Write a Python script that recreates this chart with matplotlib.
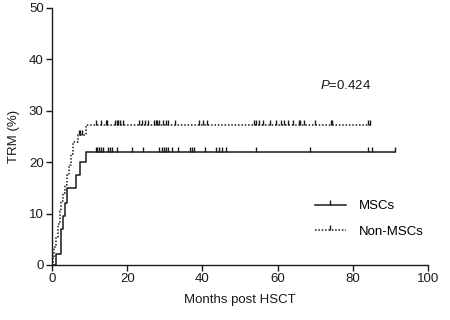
import numpy as np
import matplotlib
matplotlib.use("Agg")
import matplotlib.pyplot as plt

# cumulative TRM (%) step points
msc_times = [0, 1.0, 2.5, 3.0, 3.5, 4.0, 6.5, 7.5, 9.0, 91.2]
msc_vals = [0, 2.2, 7.0, 9.5, 12.0, 15.0, 17.5, 20.0, 22.0, 22.0]
msc_cens = [11.7, 12.0, 12.5, 13.0, 13.5, 15.0, 15.4, 16.0, 17.2, 21.2,
            24.1, 28.5, 29.2, 29.8, 30.3, 30.9, 31.8, 33.6, 36.7, 37.3,
            37.8, 40.7, 43.6, 44.5, 45.1, 46.3, 54.3, 68.6, 84.1, 85.0, 91.2]

non_times = [0, 0.3, 0.6, 1.0, 1.5, 2.0, 2.5, 3.0, 3.5, 4.0, 4.5, 5.0,
             5.5, 7.0, 9.0, 84.8]
non_vals = [0, 1.5, 3.5, 5.5, 8.0, 10.5, 12.5, 14.0, 15.5, 17.5, 19.5,
            21.5, 24.0, 25.3, 27.3, 27.3]
non_cens = [7.1, 7.5, 8.1, 11.8, 13.1, 14.3, 14.7, 16.8, 17.2, 17.6, 18.1,
            18.8, 23.2, 23.9, 24.7, 25.6, 27.1, 27.6, 28.0, 28.5, 29.4, 30.3,
            30.9, 32.7, 39.2, 40.2, 41.1, 53.6, 54.2, 55.1, 56.2, 57.9, 59.6,
            61.0, 61.8, 62.8, 64.0, 65.6, 66.0, 67.0, 69.9, 74.3, 74.6, 84.1,
            84.6]

p_text = "=0.424"

plt.rcParams["font.family"] = ["Liberation Sans", "DejaVu Sans"]
plt.rcParams["mathtext.fontset"] = "custom"
plt.rcParams["mathtext.it"] = "Liberation Sans:italic"
plt.rcParams["mathtext.rm"] = "Liberation Sans"


def level_at(times, vals, x):
    idx = np.searchsorted(times, x, side="right") - 1
    return np.array(vals)[idx]


tick_mark = [(0, 0), (0, 1)]
fig = plt.figure(figsize=(4.5, 3.2), dpi=100)
ax = fig.add_axes([0.1156, 0.172, 0.8354, 0.803])

col = "#1a1a1a"
ms = 7.5
ax.step(msc_times, msc_vals, where="post", color=col, lw=1.1)
ax.plot(msc_cens, level_at(msc_times, msc_vals, msc_cens), ls="none",
        marker=tick_mark, ms=ms, mew=1.0, color=col)
ax.step(non_times, non_vals, where="post", color=col, lw=1.1, ls=(0, (1, 1.2)))
ax.plot(non_cens, level_at(non_times, non_vals, non_cens), ls="none",
        marker=tick_mark, ms=ms, mew=1.0, color=col)

# legend handles
h1, = ax.plot([], [], color=col, lw=1.1, marker=tick_mark, ms=ms, mew=1.0)
h2, = ax.plot([], [], color=col, lw=1.1, ls=(0, (1, 1.2)), marker=tick_mark,
              ms=ms, mew=1.0)
ax.legend([h1, h2], ["MSCs", "Non-MSCs"], loc="lower right",
          bbox_to_anchor=(1.02, 0.06), frameon=False, fontsize=9.5,
          handlelength=2.3, handletextpad=1.0, labelspacing=1.0)

ax.text(78, 35, "$P$" + p_text, fontsize=9.5, ha="center", va="center",
        color=col)

ax.set_xlim(0, 100)
ax.set_ylim(0, 50)
ax.set_xticks(np.arange(0, 101, 20))
ax.set_yticks(np.arange(0, 51, 10))
for s in ["top", "right"]:
    ax.spines[s].set_visible(False)
for s in ["left", "bottom"]:
    ax.spines[s].set_linewidth(1.0)
    ax.spines[s].set_color(col)
ax.tick_params(direction="out", length=4, width=1.0, labelsize=9.5,
               colors=col, pad=2)
ax.set_xlabel("Months post HSCT", fontsize=9.5, color=col, labelpad=6)
ax.set_ylabel("TRM (%)", fontsize=9.5, color=col, labelpad=6)

fig.savefig("out.png", dpi=100)
